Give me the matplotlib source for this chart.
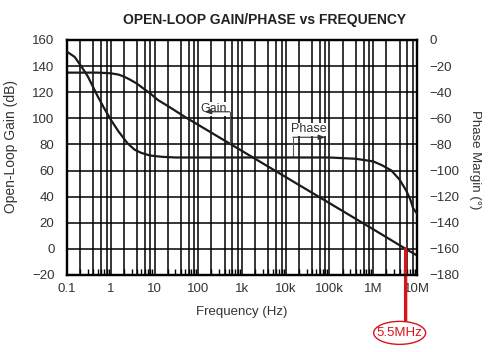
import matplotlib
matplotlib.use("Agg")
import matplotlib.pyplot as plt
import matplotlib.ticker as mticker
import matplotlib.transforms as mtransforms
from matplotlib.patches import Ellipse

plt.rcParams["font.family"] = ["Liberation Sans", "DejaVu Sans"]

# ============================================================
# DATA
# ============================================================
gain_freq = [0.1, 0.5, 1, 1.5, 2, 2.8, 4, 5.5, 8, 12, 20, 50, 100,
             1e3, 1e4, 1e5, 1e6, 5.5e6, 1e7]
gain_db = [135, 135, 134.5, 133.5, 132, 129.5, 126.5, 123, 119, 114, 109.5, 101, 95,
           75, 55, 35, 15, 0, -5]

phase_freq = [0.1, 0.15, 0.22, 0.3, 0.5, 0.7, 1, 1.5, 2.4, 3.5, 5, 8, 15, 30,
              1e5, 4e5, 1e6, 1.6e6, 2.6e6, 4e6, 5.6e6, 7e6, 8.2e6, 1e7]
phase_deg = [-9, -13, -21, -28, -43, -52, -61, -70, -79, -84, -86.5, -88.5, -89.5, -90,
             -90, -91, -93, -96, -100, -107, -115, -122, -129, -133]

x_ticks = [0.1, 1, 10, 100, 1e3, 1e4, 1e5, 1e6, 1e7]
x_labels = ["0.1", "1", "10", "100", "1k", "10k", "100k", "1M", "10M"]
gain_ticks = list(range(-20, 161, 20))
phase_ticks = list(range(-180, 1, 20))

unity_freq = 5.5e6
unity_label = "5.5MHz"

TXT = "#333333"
LINE = "#1a1a1a"
RED = "#d8141b"

# ============================================================
# PLOT
# ============================================================
fig = plt.figure(figsize=(4.88, 3.52), dpi=100)
ax = fig.add_axes([0.1373, 0.2188, 0.7172, 0.6676])
ax2 = ax.twinx()

ax.set_xscale("log")
ax.set_xlim(0.1, 1e7)
ax.set_ylim(-20, 160)
ax2.set_ylim(-180, 0)

# grid: decades plus 2,4,6,8
ax.xaxis.set_major_locator(mticker.FixedLocator(x_ticks))
ax.xaxis.set_major_formatter(mticker.FixedFormatter(x_labels))
ax.xaxis.set_minor_locator(mticker.LogLocator(base=10, subs=[2, 3, 4, 5, 6, 7, 8, 9], numticks=20))
ax.xaxis.set_minor_formatter(mticker.NullFormatter())
for f in [d * m for d in x_ticks[:-1] for m in (2, 4, 6, 8)]:
    ax.axvline(f, color="black", lw=1.1, zorder=1)
for f in x_ticks:
    ax.axvline(f, color="black", lw=1.1, zorder=1)
for g in gain_ticks:
    ax.axhline(g, color="black", lw=1.1, zorder=1)

ax.set_yticks(gain_ticks)
ax2.set_yticks(phase_ticks)

ax.plot(gain_freq, gain_db, color=LINE, lw=1.6, zorder=3)
ax2.plot(phase_freq, phase_deg, color=LINE, lw=1.6, zorder=3)

for a in (ax, ax2):
    for s in a.spines.values():
        s.set_linewidth(1.6)
        s.set_color("black")
ax.tick_params(axis="y", length=0, pad=9, labelsize=9.5, labelcolor=TXT)
ax2.tick_params(axis="y", length=0, pad=9, labelsize=9.5, labelcolor=TXT)
ax.tick_params(axis="x", which="major", length=0, pad=6, labelsize=9.5, labelcolor=TXT)
ax.tick_params(axis="x", which="minor", direction="in", length=4, width=1, color="black")

ax.set_xlabel("Frequency (Hz)", fontsize=9.5, color=TXT, labelpad=8)
ax.set_ylabel("Open-Loop Gain (dB)", fontsize=10, color=TXT)
ax.yaxis.set_label_coords(-0.14, 0.545)
ax2.set_ylabel("Phase Margin (°)", fontsize=9.5, color=TXT, rotation=270, va="center")
ax2.yaxis.set_label_coords(1.166, 0.49)

fig.text(0.543, 0.943, "OPEN-LOOP GAIN/PHASE vs FREQUENCY", ha="center", va="center",
         fontsize=10, fontweight="bold", color="#222222")

# curve labels with leader lines
ax.text(220, 102.5, "Gain", ha="center", va="bottom", fontsize=9, color=TXT, zorder=5,
        bbox=dict(fc="white", ec="none", pad=0.5))
ax.annotate("", xy=(140, 105), xytext=(520, 105),
            arrowprops=dict(arrowstyle="-|>,head_length=0.4,head_width=0.15", color="#333",
                            lw=0.8, shrinkA=0, shrinkB=0), zorder=5)
ax.plot([520, 520], [105, 81], color="#555", lw=0.8, zorder=5)

ax.text(3.3e4, 87, "Phase", ha="center", va="bottom", fontsize=9, color=TXT, zorder=5,
        bbox=dict(fc="white", ec="none", pad=0.5))
ax.annotate("", xy=(8e4, 85.5), xytext=(1.45e4, 85.5),
            arrowprops=dict(arrowstyle="-|>,head_length=0.4,head_width=0.15", color="#333",
                            lw=0.8, shrinkA=0, shrinkB=0), zorder=5)
ax.plot([1.45e4, 1.45e4], [85.5, 70.5], color="#555", lw=0.8, zorder=5)

# unity-gain marker
ax.annotate("", xy=(unity_freq, 0), xytext=(0, -55), textcoords="offset points",
            arrowprops=dict(arrowstyle="-", color=RED, lw=2.4, shrinkA=0, shrinkB=0),
            annotation_clip=False, zorder=6)
trans = fig.dpi_scale_trans + mtransforms.ScaledTranslation(unity_freq, 0, ax.transData)
ell = Ellipse((-0.06, -0.84), 0.52, 0.23, transform=trans, fc="white", ec=RED, lw=1.0,
              clip_on=False, zorder=7)
ax.add_patch(ell)
ax.text(-0.06, -0.84, unity_label, transform=trans, ha="center", va="center",
        fontsize=9.5, color=RED, clip_on=False, zorder=8)

fig.savefig("out.png", dpi=100)
